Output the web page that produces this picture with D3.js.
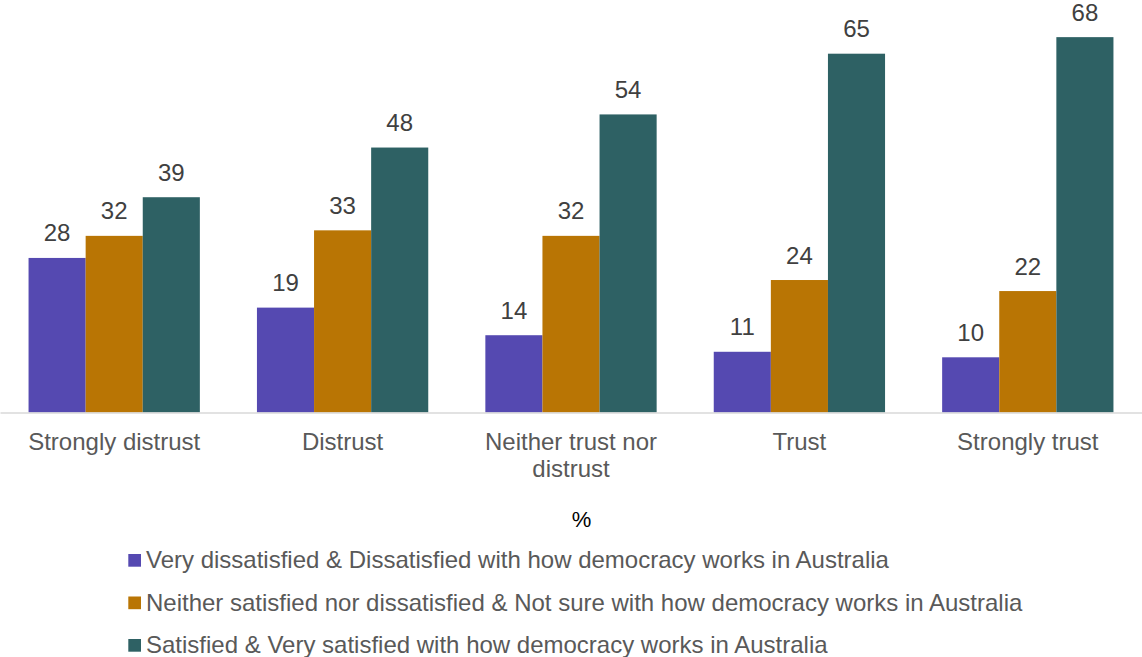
<!DOCTYPE html>
<html>
<head>
<meta charset="utf-8">
<script src="https://cdn.jsdelivr.net/npm/d3@7"></script>
<style>
html,body{margin:0;padding:0;background:#fff;}
svg{display:block;font-family:"Liberation Sans",Arial,sans-serif;}
</style>
</head>
<body>
<svg id="chart" width="1142" height="657"></svg>
<script>
const categories = ["Strongly distrust","Distrust","Neither trust nor distrust","Trust","Strongly trust"];
const seriesNames = [
  "Very dissatisfied & Dissatisfied with how democracy works in Australia",
  "Neither satisfied nor dissatisfied & Not sure with how democracy works in Australia",
  "Satisfied & Very satisfied with how democracy works in Australia"
];
const dissatisfied = [28,19,14,11,10];
const neither = [32,33,32,24,22];
const satisfied = [39,48,54,65,68];
const seriesValues = [dissatisfied, neither, satisfied];
const colors = ["#5549b1","#b97504","#2e6164"];
const axisTitle = "%";

const svg = d3.select("#chart");
const W = 1142;
const baseY = 412.5;
const FONT = '"Liberation Sans",Arial,sans-serif';
const x0 = d3.scaleBand().domain(categories).range([0, W]).paddingInner(0).paddingOuter(0);
const x1 = d3.scaleBand().domain(d3.range(seriesNames.length)).range([0, x0.bandwidth()]).paddingInner(0).paddingOuter(0.5);
const y = d3.scaleLinear().domain([0, 70]).range([baseY, baseY - 70*5.52]);

const textColor = "#595959";

const groups = svg.append("g").selectAll("g").data(categories).join("g")
  .attr("transform", d => `translate(${x0(d)},0)`);

groups.selectAll("rect").data((c,i) => seriesValues.map((s,j) => ({j, v: s[i]}))).join("rect")
  .attr("x", d => x1(d.j))
  .attr("width", x1.bandwidth())
  .attr("y", d => y(d.v))
  .attr("height", d => y(0) - y(d.v))
  .attr("fill", d => colors[d.j]);

groups.selectAll("text.val").data((c,i) => seriesValues.map((s,j) => ({j, v: s[i]}))).join("text")
  .attr("class","val")
  .attr("x", d => x1(d.j) + x1.bandwidth()/2)
  .attr("y", d => y(d.v) - 16.5)
  .attr("text-anchor","middle")
  .attr("font-size", 24)
  .attr("fill", "#404040")
  .text(d => d.v);

// axis
const xAxis = d3.axisBottom(x0).tickSize(0).tickPadding(0);
const ax = svg.append("g").attr("transform", `translate(0,${baseY})`).call(xAxis);
ax.select(".domain").attr("stroke","#d9d9d9").attr("stroke-width",1.5);
ax.selectAll(".tick text")
  .attr("font-size", 24)
  .attr("font-family", FONT)
  .attr("fill", textColor)
  .attr("dy", null)
  .attr("y", 37.5)
  .each(function(d){
    const t = d3.select(this);
    const words = d.split(" ");
    t.text(null);
    let line = [];
    let lineNo = 0;
    let tspan = t.append("tspan").attr("x",0).attr("y",37.5);
    for (const w of words) {
      line.push(w);
      tspan.text(line.join(" "));
      if (tspan.node().getComputedTextLength() > 200 && line.length > 1) {
        line.pop();
        tspan.text(line.join(" "));
        line = [w];
        lineNo++;
        tspan = t.append("tspan").attr("x",0).attr("y",37.5 + lineNo*27.3).text(w);
      }
    }
  });

svg.append("text")
  .attr("x", 581.5).attr("y", 527)
  .attr("text-anchor","middle")
  .attr("font-size", 22)
  .attr("fill", "#000")
  .text(axisTitle);

const leg = svg.append("g").selectAll("g").data(seriesNames).join("g")
  .attr("transform", (d,i) => `translate(128.3,${554 + i*42.5})`);
leg.append("rect").attr("x",0).attr("y",0).attr("width",12.7).attr("height",12.7).attr("fill",(d,i)=>colors[i]);
leg.append("text").attr("x",17.7).attr("y",14.3).attr("font-size",24).attr("fill",textColor).text(d=>d);
</script>
</body>
</html>
